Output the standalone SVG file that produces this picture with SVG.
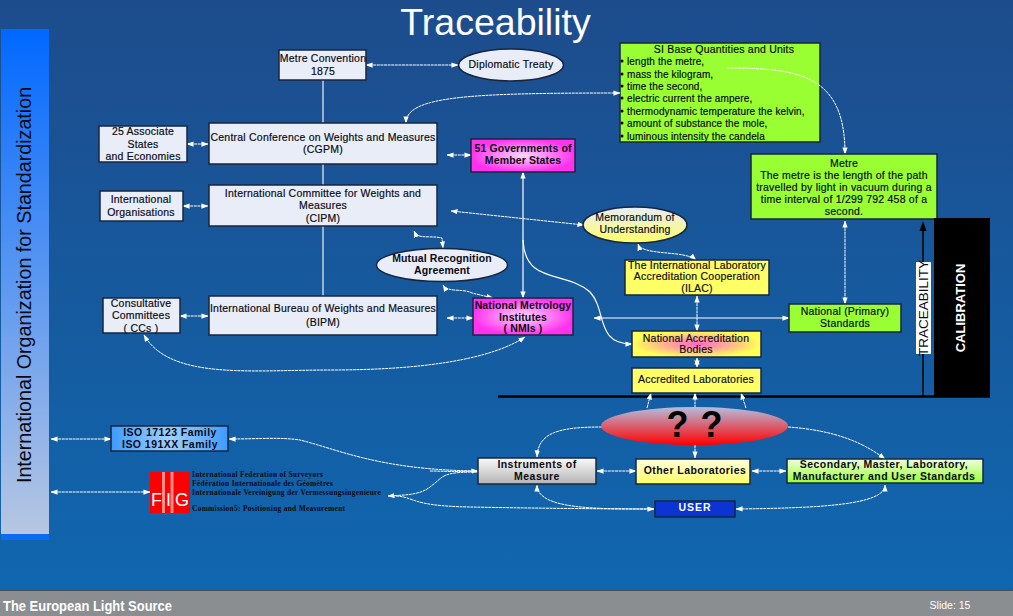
<svg xmlns="http://www.w3.org/2000/svg" width="1013" height="616" viewBox="0 0 1013 616">
<style>
text{font-family:"Liberation Sans",Arial,sans-serif;fill:#0a0a14;font-size:10.5px;text-anchor:middle;letter-spacing:.22px;stroke:#0a0a14;stroke-width:.18px}
.b{stroke:#17263f;stroke-width:1.5}
.pale{fill:#e8edf8}.yel{fill:#ffff66}.grn{fill:#99ff33}
.c{fill:none;stroke:#fff;stroke-width:1;marker-end:url(#a);stroke-dasharray:3 .6}
.d{marker-start:url(#a)}
.s{stroke-dasharray:none;stroke-width:1.2}
.p{fill:none;stroke:#c4cfe0;stroke-width:1.5}
text.l{text-anchor:start;letter-spacing:.13px;font-size:10px}
text.bd{font-weight:bold;stroke:none;letter-spacing:.45px}
text.bn{font-weight:bold;stroke:none;letter-spacing:.12px}
text.w{fill:#fff;stroke:none;letter-spacing:0}
text.f{font-family:"Liberation Serif",serif;font-weight:bold;font-size:7.4px;text-anchor:start;letter-spacing:.3px;stroke:none}
text.g{fill:#fff;stroke:none;font-size:18px;letter-spacing:0;text-anchor:start}
</style>
<defs>
<marker id="a" viewBox="0 0 8 6" refX="7.5" refY="3" markerWidth="7" markerHeight="5.5" markerUnits="userSpaceOnUse" orient="auto-start-reverse"><path d="M0 0L8 3L0 6Z" fill="#fff"/></marker>
<linearGradient id="bg" x1="0" y1="0" x2="0" y2="1"><stop offset="0" stop-color="#1d4c8c"/><stop offset="1" stop-color="#0f68b1"/></linearGradient>
<linearGradient id="bar" x1="0" y1="0" x2="0" y2="1"><stop offset="0" stop-color="#0068ff"/><stop offset="1" stop-color="#b9c8e2"/></linearGradient>
<radialGradient id="mag"><stop offset="0" stop-color="#ffd8ff"/><stop offset="1" stop-color="#ff33ee"/></radialGradient>
<radialGradient id="nab"><stop offset="0" stop-color="#ff66cc"/><stop offset=".45" stop-color="#ffa899"/><stop offset="1" stop-color="#ffff55"/></radialGradient>
<linearGradient id="ye" x1="0" y1="0" x2="0" y2="1"><stop offset="0" stop-color="#e8edf8"/><stop offset="1" stop-color="#ffff66"/></linearGradient>
<linearGradient id="q" x1="0" y1="0" x2="0" y2="1"><stop offset="0" stop-color="#b4bede"/><stop offset="1" stop-color="#ff0000"/></linearGradient>
<linearGradient id="gr" x1="0" y1="0" x2="0" y2="1"><stop offset="0" stop-color="#fafafa"/><stop offset="1" stop-color="#b4b4b4"/></linearGradient>
<linearGradient id="oy" x1="0" y1="0" x2="0" y2="1"><stop offset="0" stop-color="#ffffdd"/><stop offset="1" stop-color="#ffff66"/></linearGradient>
<linearGradient id="sg" x1="0" y1="0" x2="0" y2="1"><stop offset="0" stop-color="#f0ffdd"/><stop offset="1" stop-color="#99ff33"/></linearGradient>
<linearGradient id="iso"><stop offset="0" stop-color="#3c9cff"/><stop offset=".5" stop-color="#9fd0ff"/><stop offset="1" stop-color="#3c9cff"/></linearGradient>
</defs>
<rect width="1013" height="616" fill="url(#bg)"/>
<rect x="0" y="589" width="1013" height="27" fill="#8a8e90"/>
<rect x="0" y="589" width="1013" height="2" fill="#4a5258"/>
<text class="w" x="495.500" y="35" style="font-size:37.500px">Traceability</text>
<text class="w" x="3" y="611" style="font-size:15.500px;text-anchor:start;font-weight:bold" textLength="169" lengthAdjust="spacingAndGlyphs">The European Light Source</text>
<text class="w" x="950" y="609" style="font-size:10.500px">Slide: 15</text>

<g id="iso-bar"><rect x="1" y="29" width="48" height="511" fill="url(#bar)"/><rect x="1" y="534" width="48" height="6" fill="#0a6cf0"/>
<text transform="translate(31,285) rotate(-90)" style="font-size:19.700px;stroke:none;letter-spacing:0">International Organization for Standardization</text></g>

<path d="M498 396.500H990" stroke="#000" stroke-width="2.500"/>

<g id="si-base"><rect class="b grn" x="620" y="43" width="200" height="99"/>
<text x="724" y="53">SI Base Quantities and Units</text>
<text class="l" x="627" y="65">length the metre,</text><text class="l" x="627" y="78">mass the kilogram,</text><text class="l" x="627" y="90">time the second,</text><text class="l" x="627" y="102">electric current the ampere,</text><text class="l" x="627" y="115">thermodynamic temperature the kelvin,</text><text class="l" x="627" y="127">amount of substance the mole,</text><text class="l" x="627" y="140">luminous intensity the candela</text>
<g fill="#000"><circle cx="622" cy="61" r="1.500"/><circle cx="622" cy="74" r="1.500"/><circle cx="622" cy="86" r="1.500"/><circle cx="622" cy="98" r="1.500"/><circle cx="622" cy="111" r="1.500"/><circle cx="622" cy="123" r="1.500"/><circle cx="622" cy="136" r="1.500"/></g></g>

<g id="connectors">
<path class="p" d="M323 80V123M323 164V185M323 226V296"/>
<path class="c d" d="M366 65H458"/>
<path class="c d" d="M187 144H208"/>
<path class="c d" d="M183 206H208"/>
<path class="c d" d="M180 316H208"/>
<path class="c d" d="M447 155H471"/>
<path class="c d" d="M447 318H473"/>
<path class="c d" d="M406 123C406 96 470 93 620 93"/>
<path class="c d" d="M451 211L584 225"/>
<path class="c d" d="M414 231C418 240 428 235 442 238L443 248"/>
<path class="c d" d="M443 285C448 293 462 288 472 293L493 298"/>
<path class="c d s" d="M523 172V298"/>
<path class="c s" d="M523 240C525 285 565 270 590 292C607 310 595 344 632 344"/>
<path class="c d s" d="M594 318H789"/>
<path class="c d" d="M697 296V331"/>
<path class="c d" d="M697 358V367"/>
<path class="c d" d="M638 244C642 256 685 250 696 260"/>
<path class="c d" d="M845 221V304"/>
<path class="c" d="M727 68C800 68 845 75 845 154"/>
<path class="c d" d="M144 335C170 380 250 370 330 370C420 370 490 360 525 337"/>
<path class="c" d="M647 408L651 393"/>
<path class="c" d="M695 408V393"/>
<path class="c" d="M746 408L741 393"/>
<path class="c" d="M602 427C560 427 538 432 537 457"/>
<path class="c" d="M788 427C830 430 860 440 885 459"/>
<path class="c" d="M695 445V458"/>
<path class="c d" d="M597 471H636"/>
<path class="c d" d="M752 471H786"/>
<path class="c d" d="M51 439H111"/>
<path class="c d" d="M51 492H150"/>
<path class="c" d="M478 471C380 470 340 450 300 440C280 437 260 439 229 439"/>
<path class="c" d="M430 471C445 471 442 472 478 471"/>
<path class="c" d="M478 472C440 472 445 476 430 487C420 495 405 495 388 496"/>
<path class="c" d="M396 496C415 497 410 506 470 507C520 508 600 509 654 509"/>
<path class="c" d="M654 509C600 509 537 510 537 485"/>
<path class="c d" d="M885 485C885 505 820 508 736 509"/>
</g>

<g id="metre-convention"><rect class="b pale" x="279" y="50" width="87" height="30"/><text x="323" y="62">Metre Convention</text><text x="323" y="75">1875</text></g>
<g id="diplomatic-treaty"><ellipse class="b pale" cx="511" cy="65" rx="52.500" ry="16"/><text x="511" y="68">Diplomatic Treaty</text></g>
<g id="metre"><rect class="b grn" x="751" y="154" width="186" height="65"/>
<text x="844" y="167">Metre</text><text x="844" y="179">The metre is the length of the path</text><text x="844" y="191">travelled by light in vacuum during a</text><text x="844" y="203">time interval of 1/299 792 458 of a</text><text x="844" y="215">second.</text></g>
<g id="associate"><rect class="b pale" x="99" y="126" width="88" height="36"/><text x="143" y="135">25 Associate</text><text x="143" y="148">States</text><text x="143" y="160">and Economies</text></g>
<g id="cgpm"><rect class="b pale" x="209" y="123" width="228" height="41"/><text x="323" y="141">Central Conference on Weights and Measures</text><text x="323" y="153">(CGPM)</text></g>
<g id="governments"><rect class="b" fill="url(#mag)" x="471" y="139" width="104" height="33"/><text class="bn" x="523" y="152">51 Governments of</text><text class="bn" x="523" y="164">Member States</text></g>
<g id="organisations"><rect class="b pale" x="100" y="191" width="83" height="30"/><text x="141" y="203">International</text><text x="141" y="216">Organisations</text></g>
<g id="cipm"><rect class="b pale" x="209" y="185" width="228" height="41"/><text x="323" y="197">International Committee for Weights and</text><text x="323" y="209">Measures</text><text x="323" y="222">(CIPM)</text></g>
<g id="memorandum"><ellipse class="b" fill="url(#ye)" cx="635" cy="225" rx="52" ry="18"/><text x="635" y="221">Memorandum of</text><text x="635" y="233">Understanding</text></g>
<g id="mutual"><ellipse class="b pale" cx="442" cy="265" rx="65.500" ry="16.500"/><text class="bn" x="442" y="262">Mutual Recognition</text><text class="bn" x="442" y="274">Agreement</text></g>
<g id="ilac"><rect class="b yel" x="625" y="260" width="144" height="35"/><text x="697" y="269">The International Laboratory</text><text x="697" y="280">Accreditation Cooperation</text><text x="697" y="292">(ILAC)</text></g>
<g id="nmi"><rect class="b" fill="url(#mag)" x="473" y="298" width="100" height="37"/><text class="bn" x="523" y="309">National Metrology</text><text class="bn" x="523" y="321">Institutes</text><text class="bn" x="523" y="332">( NMIs )</text></g>
<g id="bipm"><rect class="b pale" x="209" y="296" width="228" height="39"/><text x="323" y="312">International Bureau of Weights and Measures</text><text x="323" y="326">(BIPM)</text></g>
<g id="ccs"><rect class="b pale" x="103" y="298" width="77" height="35"/><text x="141" y="307">Consultative</text><text x="141" y="319">Committees</text><text x="141" y="332">( CCs )</text></g>
<g id="primary"><rect class="b grn" x="789" y="304" width="112" height="28"/><text x="845" y="315">National (Primary)</text><text x="845" y="327">Standards</text></g>
<g id="nab-node"><rect class="b" fill="url(#nab)" x="632" y="331" width="129" height="26"/><text x="696" y="342">National Accreditation</text><text x="696" y="353">Bodies</text></g>
<g id="accredited"><rect class="b yel" x="632" y="368" width="129" height="25"/><text x="696" y="383">Accredited Laboratories</text></g>

<g id="calibration"><rect x="934" y="218" width="56" height="179" fill="#000"/><text class="w" transform="translate(965,308) rotate(-90)" style="font-weight:bold;font-size:13px">CALIBRATION</text></g>
<g id="traceability"><path d="M923 396V228" stroke="#000" stroke-width="1.500"/><path d="M919.500 231L923 221L926.500 231Z" fill="#000"/><rect x="916" y="262" width="15" height="92" fill="#fff"/><text transform="translate(928,308) rotate(-90)" style="font-size:13.500px;letter-spacing:0;stroke:none">TRACEABILITY</text></g>

<g id="question"><ellipse cx="694.500" cy="426" rx="93.500" ry="19" fill="url(#q)"/><text x="695" y="437" style="font-size:36px;letter-spacing:1px;stroke:none;fill:#000;font-weight:bold">? ?</text></g>
<g id="instruments"><rect class="b" fill="url(#gr)" x="478" y="458" width="118" height="26"/><text class="bd" x="537" y="468">Instruments of</text><text class="bd" x="537" y="480">Measure</text></g>
<g id="other"><rect class="b" fill="url(#oy)" x="636" y="459" width="114" height="25"/><text class="bd" x="695" y="474">Other Laboratories</text></g>
<g id="secondary"><rect class="b" fill="url(#sg)" x="787" y="459" width="196" height="24"/><text class="bd" x="884" y="468">Secondary, Master, Laboratory,</text><text class="bd" x="884" y="480">Manufacturer and User Standards</text></g>
<g id="user"><rect class="b" fill="#0a35d2" x="655" y="501" width="80" height="16"/><text x="695" y="511" style="fill:#fff;stroke:none;font-weight:bold;letter-spacing:1px">USER</text></g>
<g id="iso"><rect class="b" fill="url(#iso)" x="111" y="426" width="117" height="25"/><text class="bd" x="170" y="436">ISO 17123 Family</text><text class="bd" x="170" y="448">ISO 191XX Family</text></g>
<g id="fig"><rect x="150" y="472" width="40" height="41" fill="#ff0000"/>
<path d="M163.500 472V513M172 472V513" stroke="#ff8a8a" stroke-width="3"/>
<text class="g" x="151" y="506">F</text><text class="g" x="166" y="506">I</text><text class="g" x="175" y="506">G</text>
<text class="f" x="192" y="477">International Federation of Surveyors</text><text class="f" x="192" y="486">Fédération Internationale des Géomètres</text><text class="f" x="192" y="495">Internationale Vereinigung der Vermessungsingenieure</text><text class="f" x="192" y="511">Commission5: Positioning and Measurement</text></g>
</svg>
